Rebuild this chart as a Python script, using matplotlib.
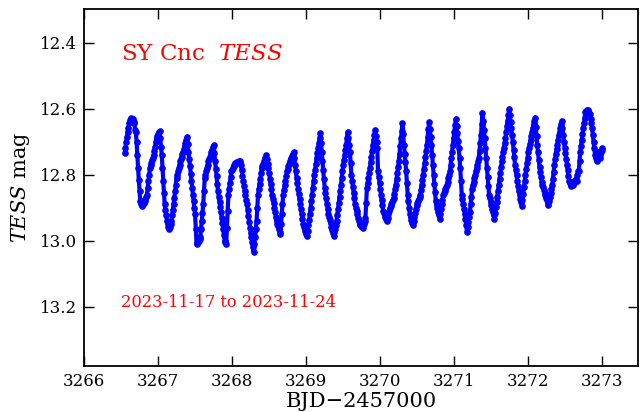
import numpy as np
import matplotlib
matplotlib.use("Agg")
import matplotlib.pyplot as plt

plt.rcParams['font.family'] = ['DejaVu Serif']
plt.rcParams['mathtext.fontset'] = 'dejavuserif'

# TESS light curve of SY Cnc, cadence 0.01 d
t_start = 3266.55
cadence = 0.01
mag = [
    12.735, 12.72, 12.70, 12.685, 12.67, 12.66, 12.645, 12.635, 12.63, 12.628,
    12.63, 12.632, 12.64, 12.645, 12.665, 12.67, 12.70, 12.74, 12.78, 12.815,
    12.85, 12.88, 12.89, 12.895, 12.893, 12.89, 12.885, 12.88, 12.875, 12.867,
    12.86, 12.84, 12.82, 12.80, 12.78, 12.772, 12.764, 12.756, 12.748, 12.74,
    12.727, 12.715, 12.70, 12.69, 12.684, 12.678, 12.672, 12.668, 12.69, 12.715,
    12.74, 12.78, 12.82, 12.855, 12.89, 12.907, 12.923, 12.94, 12.948, 12.957,
    12.965, 12.957, 12.948, 12.94, 12.923, 12.907, 12.89, 12.87, 12.85, 12.83,
    12.81, 12.80, 12.79, 12.78, 12.77, 12.76, 12.752, 12.745, 12.738, 12.73,
    12.721, 12.712, 12.703, 12.694, 12.685, 12.707, 12.73, 12.752, 12.775, 12.797,
    12.82, 12.84, 12.86, 12.88, 12.90, 12.92, 12.965, 13.01, 13.007, 13.003,
    13.00, 12.995, 12.99, 12.965, 12.94, 12.915, 12.89, 12.85, 12.81, 12.80,
    12.79, 12.78, 12.77, 12.76, 12.753, 12.746, 12.739, 12.731, 12.724, 12.717,
    12.71, 12.735, 12.76, 12.782, 12.805, 12.828, 12.85, 12.866, 12.882, 12.898,
    12.914, 12.93, 12.947, 12.965, 12.982, 13.00, 13.005, 13.01, 12.96, 12.91,
    12.86, 12.842, 12.825, 12.807, 12.79, 12.785, 12.78, 12.775, 12.77, 12.765,
    12.764, 12.763, 12.762, 12.761, 12.76, 12.76, 12.765, 12.77, 12.787, 12.803,
    12.82, 12.834, 12.848, 12.862, 12.876, 12.89, 12.907, 12.925, 12.942, 12.96,
    12.975, 12.99, 13.005, 13.02, 13.035, 13.01, 12.99, 12.965, 12.94, 12.90,
    12.86, 12.844, 12.828, 12.812, 12.796, 12.78, 12.773, 12.767, 12.76, 12.754,
    12.748, 12.741, 12.754, 12.767, 12.78, 12.796, 12.812, 12.828, 12.844, 12.86,
    12.873, 12.887, 12.90, 12.913, 12.927, 12.94, 12.948, 12.956, 12.964, 12.972,
    12.98, 12.95, 12.92, 12.89, 12.86, 12.846, 12.832, 12.818, 12.804, 12.79,
    12.782, 12.775, 12.767, 12.76, 12.754, 12.748, 12.742, 12.737, 12.731, 12.75,
    12.77, 12.79, 12.81, 12.826, 12.842, 12.858, 12.874, 12.89, 12.905, 12.92,
    12.935, 12.95, 12.957, 12.964, 12.971, 12.978, 12.985, 12.969, 12.952, 12.936,
    12.92, 12.90, 12.88, 12.86, 12.84, 12.82, 12.802, 12.785, 12.767, 12.75,
    12.735, 12.72, 12.705, 12.69, 12.675, 12.704, 12.732, 12.76, 12.787, 12.813,
    12.84, 12.856, 12.872, 12.888, 12.904, 12.92, 12.929, 12.938, 12.947, 12.957,
    12.966, 12.975, 12.985, 12.974, 12.963, 12.951, 12.94, 12.922, 12.904, 12.886,
    12.868, 12.85, 12.83, 12.81, 12.79, 12.77, 12.755, 12.74, 12.725, 12.71,
    12.69, 12.67, 12.69, 12.71, 12.73, 12.765, 12.80, 12.818, 12.836, 12.854,
    12.872, 12.89, 12.90, 12.91, 12.92, 12.93, 12.94, 12.95, 12.952, 12.954,
    12.956, 12.958, 12.96, 12.95, 12.94, 12.93, 12.885, 12.84, 12.825, 12.81,
    12.795, 12.78, 12.762, 12.745, 12.728, 12.71, 12.695, 12.68, 12.666, 12.684,
    12.702, 12.72, 12.79, 12.808, 12.825, 12.843, 12.86, 12.877, 12.893, 12.91,
    12.916, 12.922, 12.928, 12.934, 12.94, 12.93, 12.92, 12.91, 12.90, 12.894,
    12.888, 12.882, 12.876, 12.87, 12.857, 12.843, 12.83, 12.812, 12.795, 12.777,
    12.76, 12.736, 12.713, 12.69, 12.668, 12.645, 12.678, 12.71, 12.737, 12.763,
    12.79, 12.825, 12.86, 12.88, 12.90, 12.92, 12.928, 12.936, 12.945, 12.953,
    12.941, 12.929, 12.917, 12.905, 12.893, 12.887, 12.881, 12.874, 12.868, 12.862,
    12.846, 12.83, 12.815, 12.80, 12.782, 12.764, 12.746, 12.728, 12.71, 12.687,
    12.663, 12.64, 12.663, 12.687, 12.71, 12.74, 12.77, 12.80, 12.827, 12.853,
    12.88, 12.891, 12.902, 12.912, 12.923, 12.933, 12.919, 12.905, 12.89, 12.876,
    12.862, 12.856, 12.85, 12.844, 12.838, 12.832, 12.822, 12.811, 12.80, 12.79,
    12.77, 12.75, 12.73, 12.71, 12.69, 12.67, 12.65, 12.63, 12.652, 12.675,
    12.698, 12.72, 12.75, 12.78, 12.82, 12.86, 12.875, 12.889, 12.904, 12.918,
    12.933, 12.953, 12.973, 12.958, 12.943, 12.928, 12.913, 12.89, 12.866, 12.842,
    12.832, 12.822, 12.811, 12.80, 12.79, 12.78, 12.77, 12.76, 12.75, 12.727,
    12.703, 12.68, 12.646, 12.612, 12.638, 12.664, 12.69, 12.72, 12.75, 12.78,
    12.807, 12.835, 12.862, 12.872, 12.883, 12.893, 12.903, 12.913, 12.923, 12.933,
    12.916, 12.899, 12.883, 12.866, 12.849, 12.832, 12.814, 12.796, 12.778, 12.76,
    12.746, 12.732, 12.718, 12.704, 12.69, 12.672, 12.654, 12.636, 12.618, 12.60,
    12.62, 12.64, 12.66, 12.68, 12.702, 12.725, 12.747, 12.77, 12.786, 12.802,
    12.818, 12.834, 12.85, 12.861, 12.873, 12.884, 12.895, 12.876, 12.857, 12.838,
    12.819, 12.80, 12.782, 12.765, 12.748, 12.73, 12.718, 12.706, 12.694, 12.682,
    12.67, 12.659, 12.648, 12.638, 12.627, 12.655, 12.683, 12.71, 12.732, 12.755,
    12.777, 12.792, 12.807, 12.822, 12.83, 12.838, 12.846, 12.854, 12.862, 12.87,
    12.878, 12.885, 12.893, 12.881, 12.869, 12.856, 12.844, 12.832, 12.812, 12.791,
    12.771, 12.751, 12.737, 12.723, 12.709, 12.695, 12.681, 12.67, 12.659, 12.648,
    12.637, 12.658, 12.679, 12.70, 12.718, 12.735, 12.753, 12.77, 12.787, 12.803,
    12.82, 12.826, 12.83, 12.834, 12.822, 12.83, 12.818, 12.826, 12.82, 12.812,
    12.82, 12.80, 12.79, 12.79, 12.76, 12.73, 12.712, 12.695, 12.678, 12.66,
    12.643, 12.627, 12.61, 12.607, 12.603, 12.605, 12.608, 12.612, 12.615, 12.63,
    12.645, 12.66, 12.68, 12.70, 12.72, 12.74, 12.75, 12.76, 12.745, 12.73,
    12.74, 12.75, 12.74, 12.73, 12.725, 12.72,
]
time = t_start + cadence * np.arange(len(mag))

x_ticks = [3266, 3267, 3268, 3269, 3270, 3271, 3272, 3273]
y_ticks = [12.4, 12.6, 12.8, 13.0, 13.2]
title_text = r"SY Cnc  $TESS$"
date_text = "2023-11-17 to 2023-11-24"

fig = plt.figure(figsize=(6.42, 4.12), dpi=100)
ax = fig.add_axes([0.1308, 0.1124, 0.8630, 0.8646])
ax.plot(time, mag, '-', color='#0000ff', linewidth=3.0, solid_joinstyle='round',
        solid_capstyle='round')
ax.plot(time, mag, 'o', color='#0000ff', markersize=4.8, markeredgewidth=0)

ax.set_xlim(3266.0, 3273.48)
ax.set_ylim(13.378, 12.3)
ax.set_xticks(x_ticks)
ax.set_yticks(y_ticks)
ax.set_yticklabels([f"{v:.1f}" for v in y_ticks])
ax.tick_params(direction='in', length=7.5, width=1.0, top=True, right=True,
               labelsize=12, pad=5)
for s in ax.spines.values():
    s.set_linewidth(1.3)

ax.set_xlabel("BJD\u22122457000", fontsize=15, labelpad=2)
ax.set_ylabel(r"$TESS$ mag", fontsize=15, labelpad=6)

ax.text(0.067, 0.858, title_text, transform=ax.transAxes, color='red',
        fontsize=16.5, ha='left', va='baseline')
ax.text(0.067, 0.164, date_text, transform=ax.transAxes, color='red',
        fontsize=11.7, ha='left', va='baseline')

fig.savefig("out.png", dpi=100)
